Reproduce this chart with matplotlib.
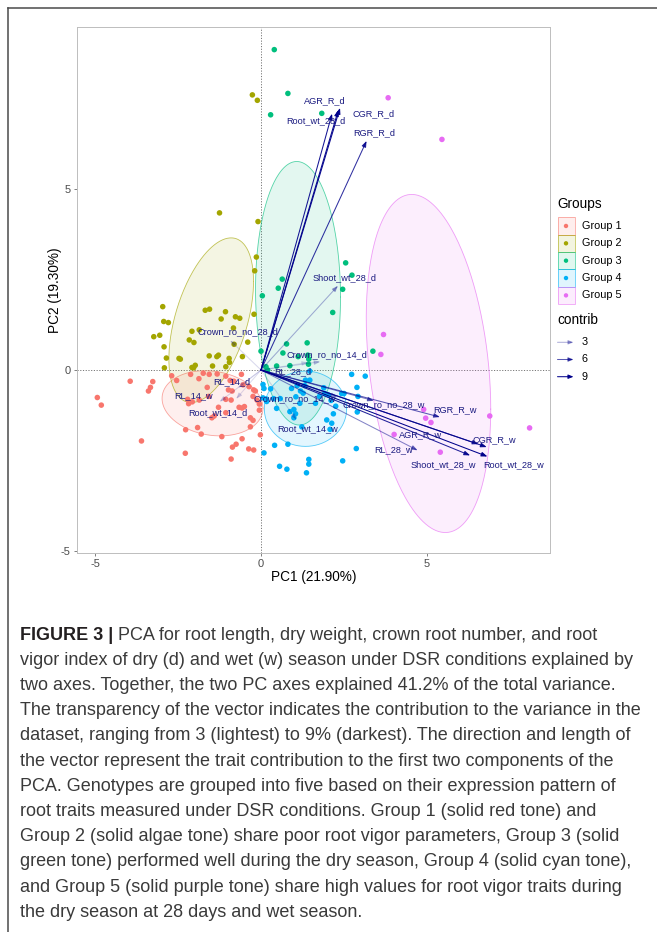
import numpy as np
import matplotlib
matplotlib.use("Agg")
import matplotlib.pyplot as plt
from matplotlib import font_manager
from matplotlib.patches import Rectangle

W, H, DPI = 657, 932, 100

# ---------------- data ----------------
groups = ["Group 1", "Group 2", "Group 3", "Group 4", "Group 5"]
group_colors = ["#F8766D", "#A3A500", "#00BF7D", "#00B0F6", "#E76BF3"]

g1_x = [-3.94, -3.26, -3.33, -3.39, -4.93, -4.81, -3.60, -2.28, -2.27, -1.91, -1.80, -1.18, -0.57, -0.86,
        -0.75, -0.90, -0.37, -0.22, -0.02, -0.32, -0.05, -0.05, -2.69, -2.54, -2.12, -1.87, -1.74, -1.56,
        -1.32, -1.06, -0.93, -0.59, -0.54, -0.98, -0.87, -1.62, -2.21, -2.18, -2.07, -1.86, -1.58, -1.28,
        -1.06, -0.90, -0.66, -0.57, -0.50, -1.06, -1.41, -1.48, -0.32, -0.24, -0.17, -0.24, -0.12, -0.36,
        -0.22, -0.82]
g1_y = [-0.31, -0.32, -0.48, -0.58, -0.76, -0.97, -1.96, -2.30, -1.65, -1.59, -1.77, -1.84, -1.90, -2.13,
        -2.05, -2.46, -2.18, -2.21, -1.79, -1.57, -1.11, -0.94, -0.16, -0.29, -0.12, -0.24, -0.09, -0.12,
        -0.11, -0.17, -0.29, -0.12, -0.41, -0.55, -0.58, -0.48, -0.81, -0.93, -0.88, -0.83, -0.73, -1.03,
        -0.81, -0.83, -1.03, -1.05, -1.01, -1.18, -1.27, -1.32, -1.32, -1.39, -0.58, -0.73, -0.83, -0.46,
        -0.55, -0.31]

g2_x = [-0.26, -0.11, -1.25, -0.09, -0.14, -0.19, -2.96, -3.05, -3.23, -2.93, -2.79, -2.92, -2.85, -2.91,
        -2.47, -2.43, -2.16, -2.02, -1.86, -2.08, -1.68, -1.55, -1.07, -0.77, -0.64, -1.20, -0.81, -0.40,
        -0.56, -0.96, -0.95, -1.06, -1.28, -1.33, -1.56, -1.46, -1.98, -2.08, -0.21, -0.83, -2.03]
g2_y = [7.60, 7.45, 4.34, 4.10, 3.12, 2.74, 1.75, 0.96, 0.92, 1.34, 1.31, 0.64, 0.33, 0.06,
        0.32, 0.30, 0.83, 0.76, 1.11, 1.07, 1.65, 1.68, 1.61, 1.47, 1.43, 1.41, 0.71, 0.77,
        0.37, 0.32, 0.21, 0.09, 0.41, 0.37, 0.39, 0.11, 0.13, 0.07, 1.54, 1.16, 0.06]

g3_x = [0.40, 0.81, 0.29, 1.83, 2.55, 2.74, 2.46, 0.64, 0.52, 0.04, 2.16, 0.77, 1.39, 0.66, 1.41,
        1.44, 1.43, 0.87, 0.47, 0.15, 0.00, 1.12, 3.37, 0.20]
g3_y = [8.85, 7.64, 7.05, 7.09, 2.96, 2.62, 2.23, 2.51, 2.26, 2.05, 1.59, 0.72, 0.75, 0.47, 0.41,
        0.30, 0.16, 0.12, 0.11, 0.09, 0.52, 0.37, 0.52, 0.00]

g4_x = [2.73, 3.14, 2.89, 2.92, 2.90, 2.87, 2.46, 2.18, 2.25, 2.43, 1.89, 1.92, 1.76, 1.47, 1.47, 1.34,
        1.32, 1.09, 1.19, 1.27, 1.05, 1.17, 0.99, 0.87, 0.99, 1.04, 0.58, 0.38, 0.29, 0.06, 0.09, 0.06,
        0.16, 0.41, 0.81, 0.09, 0.56, 0.78, 1.44, 1.44, 1.37, 2.11, 2.08, 1.64, 2.50, 2.03, 1.98, 2.13,
        1.23, 0.47, 0.17, 0.92]
g4_y = [-0.12, -0.17, -0.48, -0.73, -1.16, -2.17, -2.51, -1.21, -1.00, -0.65, -0.49, -0.65, -0.73, -0.28,
        -0.03, -0.28, -0.43, -0.43, -0.58, -0.64, -0.74, -0.92, -1.09, -1.15, -1.32, -1.21, -0.79, -0.79,
        -0.52, -0.40, -0.51, -0.77, -0.80, -2.08, -2.05, -2.29, -2.66, -2.74, -2.47, -2.60, -2.84, -0.84,
        -1.64, -0.92, -0.65, -0.69, -1.38, -1.47, -1.57, -1.06, -0.87, -0.51]

g5_x = [3.83, 5.45, 3.69, 3.61, 4.90, 4.96, 5.12, 6.89, 8.09, 4.01, 5.40]
g5_y = [7.52, 6.37, 0.98, 0.43, -1.09, -1.33, -1.45, -1.27, -1.60, -1.78, -2.27]

group_x = [g1_x, g2_x, g3_x, g4_x, g5_x]
group_y = [g1_y, g2_y, g3_y, g4_y, g5_y]

# concentration ellipses: centre, half-extent in x and y, correlation
ell_cx = [-1.46, -1.50, 1.115, 1.34, 5.045]
ell_cy = [-0.92, 1.375, 2.12, -1.07, 0.18]
ell_sx = [1.52, 1.275, 1.28, 1.24, 1.875]
ell_sy = [0.90, 2.275, 3.64, 1.04, 4.67]
ell_rho = [-0.15, 0.47, -0.03, 0.0, -0.27]

var_names = ["CGR_R_d", "AGR_R_d", "Root_wt_28_d", "RGR_R_d", "Shoot_wt_28_d", "Crown_ro_no_28_d",
             "Crown_ro_no_14_d", "RL_28_d", "RL_14_d", "RL_14_w", "Root_wt_14_d", "Crown_ro_no_14_w",
             "Root_wt_14_w", "Crown_ro_no_28_w", "RGR_R_w", "AGR_R_w", "CGR_R_w", "Root_wt_28_w",
             "Shoot_wt_28_w", "RL_28_w"]
var_x = [2.38, 2.33, 2.14, 3.18, 2.32, -0.93, 1.79, 1.42, -0.70, -1.25, -0.75, 2.30,
         1.07, 3.40, 5.39, 6.55, 6.80, 6.82, 6.30, 4.72]
var_y = [7.24, 7.18, 7.08, 6.33, 2.33, 0.82, 0.23, 0.21, -0.50, -0.88, -0.80, -0.75,
         -1.38, -0.85, -1.30, -2.05, -2.13, -2.39, -2.36, -2.22]
var_contrib = [9.0, 9.0, 8.5, 7.5, 3.0, 1.5, 1.8, 1.2, 1.0, 1.4, 1.3, 2.5,
               1.5, 5.0, 6.0, 7.5, 8.5, 9.2, 8.0, 4.5]
label_x = [3.40, 1.91, 1.66, 3.40, 2.52, -0.69, 1.99, 0.97, -0.88, -2.04, -1.29, 1.00,
           1.39, 3.70, 5.85, 4.82, 7.02, 7.61, 5.48, 4.00]
label_y = [7.07, 7.44, 6.89, 6.56, 2.55, 1.07, 0.43, -0.04, -0.31, -0.70, -1.19, -0.80,
           -1.62, -0.97, -1.11, -1.80, -1.92, -2.61, -2.61, -2.19]

contrib_breaks = [3, 6, 9]

x_ticks = [-5, 0, 5]
y_ticks = [-5, 0, 5]
x_title = "PC1 (21.90%)"
y_title = "PC2 (19.30%)"

caption_bold = "FIGURE 3 |"
caption_lines = [
    " PCA for root length, dry weight, crown root number, and root",
    "vigor index of dry (d) and wet (w) season under DSR conditions explained by",
    "two axes. Together, the two PC axes explained 41.2% of the total variance.",
    "The transparency of the vector indicates the contribution to the variance in the",
    "dataset, ranging from 3 (lightest) to 9% (darkest). The direction and length of",
    "the vector represent the trait contribution to the first two components of the",
    "PCA. Genotypes are grouped into five based on their expression pattern of",
    "root traits measured under DSR conditions. Group 1 (solid red tone) and",
    "Group 2 (solid algae tone) share poor root vigor parameters, Group 3 (solid",
    "green tone) performed well during the dry season, Group 4 (solid cyan tone),",
    "and Group 5 (solid purple tone) share high values for root vigor traits during",
    "the dry season at 28 days and wet season.",
]

# ---------------- fonts ----------------
names = {f.name for f in font_manager.fontManager.ttflist}
base_font = "Liberation Sans" if "Liberation Sans" in names else "DejaVu Sans"
cap_font = "Liberation Sans Narrow" if "Liberation Sans Narrow" in names else base_font
plt.rcParams["font.family"] = [base_font, "DejaVu Sans"]

ARROW_COL = np.array([0.0, 0.0, 0.545])
cmin, cmax = min(var_contrib), max(var_contrib)


def alpha_of(c):
    a = 0.1 + 0.9 * (c - cmin) / (cmax - cmin)
    return float(np.clip(a, 0.05, 1.0))


fig = plt.figure(figsize=(W / DPI, H / DPI), dpi=DPI)
fig.patch.set_facecolor("white")

# ---------------- main panel ----------------
L, R, T, B = 77, 550, 27, 553
ax = fig.add_axes([L / W, 1 - B / H, (R - L) / W, (B - T) / H])
x0_px, ux = 261.0, 33.2
y0_px, uy = 370.0, 36.2
ax.set_xlim((L - x0_px) / ux, (R - x0_px) / ux)
ax.set_ylim((y0_px - B) / uy, (y0_px - T) / uy)

ax.axhline(0, color="#777777", lw=0.7, ls=(0, (1.2, 1.6)), zorder=1)
ax.axvline(0, color="#777777", lw=0.7, ls=(0, (1.2, 1.6)), zorder=1)

t = np.linspace(0, 2 * np.pi, 300)
for cx, cy, sx, sy, rho, col in zip(ell_cx, ell_cy, ell_sx, ell_sy, ell_rho, group_colors):
    ex = cx + sx * np.cos(t)
    ey = cy + sy * (rho * np.cos(t) + np.sqrt(1 - rho ** 2) * np.sin(t))
    ax.fill(ex, ey, color=col, alpha=0.11, lw=0, zorder=2)
    ax.plot(ex, ey, color=col, lw=0.6, alpha=0.65, zorder=2)

for gx, gy, col in zip(group_x, group_y, group_colors):
    ax.scatter(gx, gy, s=16, color=col, edgecolors="none", zorder=3)

order = np.argsort(var_contrib)
for i in order:
    a = alpha_of(var_contrib[i])
    ax.annotate("", xy=(var_x[i], var_y[i]), xytext=(0, 0),
                arrowprops=dict(arrowstyle="-|>,head_length=0.35,head_width=0.13",
                                color=(*ARROW_COL, a), lw=0.75, shrinkA=0, shrinkB=0),
                zorder=4)

for name, lx, ly in zip(var_names, label_x, label_y):
    ax.text(lx, ly, name, ha="center", va="center", fontsize=6.6, color="#1A1A80", zorder=5)

ax.set_xticks(x_ticks)
ax.set_yticks(y_ticks)
ax.set_xticklabels([str(v) for v in x_ticks])
ax.set_yticklabels([str(v) for v in y_ticks])
ax.tick_params(axis="both", labelsize=8, colors="#4D4D4D", length=2.5, width=0.5, pad=2)
for sp in ax.spines.values():
    sp.set_color("#BDBDBD")
    sp.set_linewidth(0.7)

# ---------------- overlay in pixel coordinates ----------------
ov = fig.add_axes([0, 0, 1, 1], facecolor="none")
ov.set_xlim(0, W)
ov.set_ylim(H, 0)
ov.axis("off")

ov.text((L + R) / 2, 577, x_title, ha="center", va="center", fontsize=9.8, color="black")
ov.text(55, (T + B) / 2, y_title, ha="center", va="center", fontsize=9.8, rotation=90, color="black")

# figure frame (top and left rules)
ov.plot([8, W], [8, 8], color="#4A4A4A", lw=1.1)
ov.plot([8, 8], [8, H], color="#4A4A4A", lw=1.1)

# legend: Groups
ov.text(557, 204, "Groups", ha="left", va="center", fontsize=9.8)
kh = 17.35
for i, (g, col) in enumerate(zip(groups, group_colors)):
    ytop = 217.3 + kh * i
    ov.add_patch(Rectangle((557.5, ytop), 17.2, kh, facecolor=col, alpha=0.12, edgecolor="none"))
    ov.add_patch(Rectangle((557.5, ytop), 17.2, kh, facecolor="none", edgecolor=col, alpha=0.55, lw=0.7))
    ov.scatter([566], [ytop + kh / 2], s=10, color=col, edgecolors="none")
    ov.text(581.5, ytop + kh / 2, g, ha="left", va="center", fontsize=7.8)

# legend: contrib
ov.text(557, 320, "contrib", ha="left", va="center", fontsize=9.8)
for j, c in enumerate(contrib_breaks):
    yy = 342.3 + 17.2 * j
    a = alpha_of(c)
    ov.annotate("", xy=(573.5, yy), xytext=(557.5, yy),
                arrowprops=dict(arrowstyle="-|>,head_length=0.3,head_width=0.12",
                                color=(*ARROW_COL, a), lw=0.75, shrinkA=0, shrinkB=0))
    ov.text(581.5, yy, str(c), ha="left", va="center", fontsize=7.8)

# ---------------- caption ----------------
renderer = fig.canvas.get_renderer()
probe = ov.text(0, 0, caption_lines[3], fontsize=10, family=[cap_font, "DejaVu Sans"])
w10 = probe.get_window_extent(renderer).width
probe.remove()
cap_size = 10 * 625.0 / w10
cap_size = min(cap_size, 13.8)

cap_y0, cap_dy = 635.0, 25.2
bold_t = ov.text(20, cap_y0, caption_bold, ha="left", va="center", fontsize=cap_size,
                 family=[cap_font, "DejaVu Sans"], weight="bold", color="#231F20")
bw = bold_t.get_window_extent(renderer).width
for k, line in enumerate(caption_lines):
    xx = 20 + (bw if k == 0 else 0)
    ov.text(xx, cap_y0 + cap_dy * k, line, ha="left", va="center", fontsize=cap_size,
            family=[cap_font, "DejaVu Sans"], color="#3A3A3A")

fig.savefig("out.png", dpi=DPI, facecolor="white")
